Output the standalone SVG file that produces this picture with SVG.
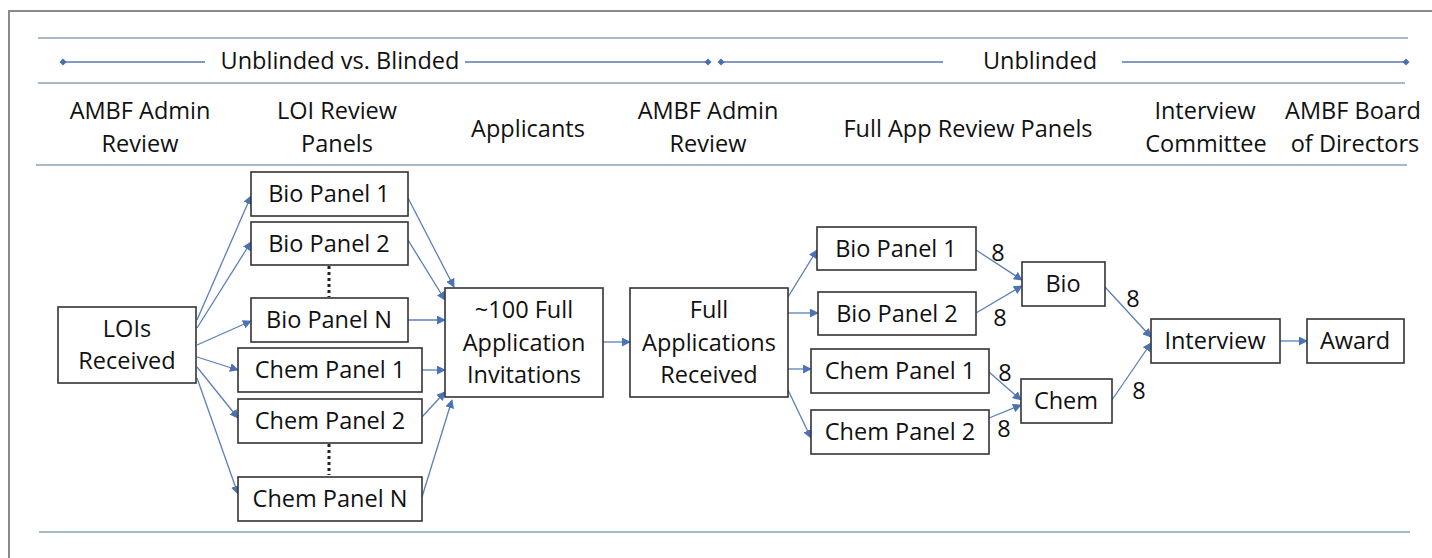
<svg xmlns="http://www.w3.org/2000/svg" width="1432" height="558" viewBox="0 0 1432 558">
<style>
text{font-family:"Open Sans","Noto Sans","Liberation Sans",sans-serif;font-size:23.5px;fill:#111;text-anchor:middle}
.box{fill:#fff;stroke:#333;stroke-width:1.6}
.rule{stroke:#8aa3b8;stroke-width:1.6;fill:none}
.tl{stroke:#5a78a8;stroke-width:1.4;fill:none}
.c{stroke:#5b7fb8;stroke-width:1.3;fill:none;marker-end:url(#ah)}
.dot{stroke:#222;stroke-width:3;stroke-dasharray:3 3;fill:none}
.dm{fill:#4a6fb0}
</style>
<defs>
<marker id="ah" viewBox="0 0 10 10" refX="9" refY="5" markerWidth="9" markerHeight="9" markerUnits="userSpaceOnUse" orient="auto">
<path d="M0,0 L10,5 L0,10 z" fill="#4a72b4"/>
</marker>
</defs>
<rect width="1432" height="558" fill="#fff"/>
<g id="frame">
<path d="M9,558 V11 H1432" stroke="#8a8a8a" stroke-width="2" fill="none"/>
</g>
<g id="header">
<line class="rule" x1="38" y1="38" x2="1408" y2="38"/>
<line class="rule" x1="38" y1="83" x2="1405" y2="83"/>
<line class="rule" x1="36" y1="165" x2="1407" y2="165"/>
<line class="rule" x1="39" y1="532" x2="1410" y2="532"/>
<line class="tl" x1="63" y1="62" x2="205" y2="62"/>
<line class="tl" x1="465" y1="62" x2="708" y2="62"/>
<line class="tl" x1="721" y1="62" x2="943" y2="62"/>
<line class="tl" x1="1122" y1="62" x2="1406" y2="62"/>
<path class="dm" d="M63,58.5 L66.5,62 L63,65.5 L59.5,62 z"/>
<path class="dm" d="M708,58.5 L711.5,62 L708,65.5 L704.5,62 z"/>
<path class="dm" d="M721,58.5 L724.5,62 L721,65.5 L717.5,62 z"/>
<path class="dm" d="M1406,58.5 L1409.5,62 L1406,65.5 L1402.5,62 z"/>
<text x="340" y="69">Unblinded vs. Blinded</text>
<text x="1040" y="69">Unblinded</text>
<text x="140" y="119">AMBF Admin</text>
<text x="140" y="152">Review</text>
<text x="337" y="119">LOI Review</text>
<text x="337" y="152">Panels</text>
<text x="528" y="137">Applicants</text>
<text x="708" y="119">AMBF Admin</text>
<text x="708" y="152">Review</text>
<text x="968" y="137">Full App Review Panels</text>
<text x="1205" y="119">Interview</text>
<text x="1206" y="152">Committee</text>
<text x="1353" y="119">AMBF Board</text>
<text x="1355" y="152">of Directors</text>
</g>
<g id="connectors">
<line class="c" x1="197" y1="320" x2="251" y2="196"/>
<line class="c" x1="197" y1="328" x2="251" y2="242"/>
<line class="c" x1="197" y1="345" x2="251" y2="321"/>
<line class="c" x1="197" y1="357" x2="238" y2="370"/>
<line class="c" x1="197" y1="367" x2="238" y2="418"/>
<line class="c" x1="197" y1="378" x2="238" y2="494"/>
<line class="c" x1="408" y1="198" x2="454" y2="287"/>
<line class="c" x1="408" y1="240" x2="445" y2="300"/>
<line class="c" x1="408" y1="320" x2="445" y2="320"/>
<line class="c" x1="422" y1="370" x2="445" y2="370"/>
<line class="c" x1="422" y1="417" x2="445" y2="392"/>
<line class="c" x1="422" y1="497" x2="452" y2="400"/>
<line class="c" x1="603" y1="342" x2="630" y2="342"/>
<line class="c" x1="788" y1="297" x2="817" y2="250"/>
<line class="c" x1="788" y1="313" x2="818" y2="313"/>
<line class="c" x1="788" y1="369" x2="811" y2="369"/>
<line class="c" x1="788" y1="390" x2="811" y2="438"/>
<line class="c" x1="976" y1="250" x2="1022" y2="280"/>
<line class="c" x1="976" y1="313" x2="1022" y2="286"/>
<line class="c" x1="989" y1="372" x2="1021" y2="400"/>
<line class="c" x1="989" y1="418" x2="1021" y2="405"/>
<line class="c" x1="1105" y1="287" x2="1151" y2="337"/>
<line class="c" x1="1112" y1="400" x2="1151" y2="343"/>
<line class="c" x1="1280" y1="341" x2="1307" y2="341"/>
<line class="dot" x1="329" y1="266" x2="329" y2="297"/>
<line class="dot" x1="329" y1="444" x2="329" y2="475"/>
<text x="998" y="261">8</text>
<text x="1000" y="326">8</text>
<text x="1005" y="381">8</text>
<text x="1004" y="437">8</text>
<text x="1133" y="307">8</text>
<text x="1139" y="399">8</text>
</g>
<g id="lois"><rect class="box" x="58" y="307" width="138" height="76"/><text x="127" y="337">LOIs</text><text x="127" y="369">Received</text></g>
<g id="bio1"><rect class="box" x="251" y="172" width="157" height="44"/><text x="329" y="202">Bio Panel 1</text></g>
<g id="bio2"><rect class="box" x="251" y="222" width="157" height="43"/><text x="329" y="252">Bio Panel 2</text></g>
<g id="bioN"><rect class="box" x="251" y="298" width="157" height="44"/><text x="329" y="328">Bio Panel N</text></g>
<g id="chem1"><rect class="box" x="238" y="348" width="184" height="44"/><text x="330" y="378">Chem Panel 1</text></g>
<g id="chem2"><rect class="box" x="238" y="399" width="184" height="44"/><text x="330" y="429">Chem Panel 2</text></g>
<g id="chemN"><rect class="box" x="238" y="477" width="184" height="44"/><text x="330" y="507">Chem Panel N</text></g>
<g id="invites"><rect class="box" x="445" y="288" width="158" height="109"/><text x="524" y="318">~100 Full</text><text x="524" y="351">Application</text><text x="524" y="383">Invitations</text></g>
<g id="fullapps"><rect class="box" x="630" y="288" width="158" height="109"/><text x="709" y="318">Full</text><text x="709" y="351">Applications</text><text x="709" y="383">Received</text></g>
<g id="rbio1"><rect class="box" x="817" y="227" width="159" height="43"/><text x="896" y="257">Bio Panel 1</text></g>
<g id="rbio2"><rect class="box" x="818" y="292" width="158" height="43"/><text x="897" y="322">Bio Panel 2</text></g>
<g id="rchem1"><rect class="box" x="811" y="349" width="178" height="44"/><text x="900" y="379">Chem Panel 1</text></g>
<g id="rchem2"><rect class="box" x="811" y="410" width="178" height="44"/><text x="900" y="440">Chem Panel 2</text></g>
<g id="bio"><rect class="box" x="1022" y="262" width="83" height="44"/><text x="1063" y="292">Bio</text></g>
<g id="chem"><rect class="box" x="1021" y="379" width="91" height="44"/><text x="1066" y="409">Chem</text></g>
<g id="interview"><rect class="box" x="1151" y="319" width="129" height="44"/><text x="1215" y="349">Interview</text></g>
<g id="award"><rect class="box" x="1307" y="319" width="97" height="44"/><text x="1355" y="349">Award</text></g>
</svg>
